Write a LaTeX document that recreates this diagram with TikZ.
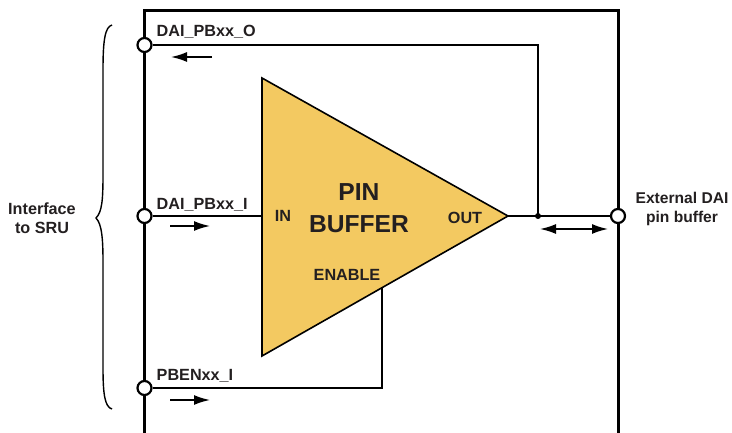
\documentclass[tikz,border=0pt]{standalone}
\usepackage{fontspec}
\setmainfont{Liberation Sans}
\usetikzlibrary{arrows.meta}
\definecolor{bufferfill}{RGB}{243,201,97}
\definecolor{labeltext}{RGB}{35,31,32}
\tikzset{
  wire/.style={line width=2pt},
  frameline/.style={line width=2.5pt},
  pin/.style={circle,draw,fill=white,line width=2.2pt,minimum size=14pt,inner sep=0pt},
  flow/.style={line width=1.7pt,-{Latex[length=16pt,width=10pt]}},
  flowboth/.style={line width=1.7pt,{Latex[length=16pt,width=10pt]}-{Latex[length=16pt,width=10pt]}},
  lbl/.style={font=\bfseries\fontsize{16.2}{19}\selectfont,text=labeltext,inner sep=0pt,align=center},
  big/.style={font=\bfseries\fontsize{24.6}{32}\selectfont,text=labeltext,inner sep=0pt,align=center},
}
\begin{document}
\begin{tikzpicture}[x=1pt,y=-1pt]
\useasboundingbox (0,0) rectangle (732,433);
% frame
\draw[frameline](144.5,433)--(144.5,10.5)--(618.5,10.5)--(618.5,433);
% buffer
\coordinate(bufa)at(262,78);
\coordinate(bufb)at(262,356);
\coordinate(bufout)at(508,216);
\coordinate(bufin)at(262,216);
\coordinate(bufen)at(382,288);
\coordinate(tap)at(538,216);
\coordinate(topcorner)at(538,45);
\coordinate(encorner)at(382.4,388);
% pins
\node[pin](pinO)at(144.5,45){};
\node[pin](pinI)at(144.5,216){};
\node[pin](pinEN)at(144.5,388){};
\node[pin](pinX)at(618,216){};
% wires
\draw[wire](pinO)--(topcorner)--(tap);
\draw[wire](pinI)--(bufin);
\draw[wire](bufout)--(pinX);
\draw[wire](pinEN)--(encorner)--(encorner|-bufen);
\draw[line width=1.6pt,fill=bufferfill,line join=miter](bufa)--(bufout)--(bufb)--cycle;
\fill(tap)circle(3);
% direction arrows
\coordinate(oa)at(212,57);\coordinate(ob)at(171,57);
\coordinate(ia)at(170,226);\coordinate(ib)at(210,226);
\coordinate(ea)at(170,400);\coordinate(eb)at(210,400);
\coordinate(xa)at(540,229);\coordinate(xb)at(608,229);
\draw[flow](oa)--(ob);
\draw[flow](ia)--(ib);
\draw[flow](ea)--(eb);
\draw[flowboth](xa)--(xb);
% brace
\draw[line width=1.4pt](112,25)..controls(105,27)and(103,40)..(103,70)
  --(103,175)..controls(103,200)and(102,212)..(96,218)
  ..controls(102,224)and(103,240)..(103,262)
  --(103,368)..controls(103,395)and(105,407)..(112,409);
% labels
\node[lbl,anchor=base west](lblO)at(156.5,36.5){DAI\_PBxx\_O};
\node[lbl,anchor=base west](lblI)at(156.5,210){DAI\_PBxx\_I};
\node[lbl,anchor=base west](lblEN)at(156.5,380){PBENxx\_I};
\node[lbl,anchor=base](lblIn)at(283,222){IN};
\node[lbl,anchor=base](lblOut)at(465,223.5){OUT};
\node[lbl,anchor=base](lblEnable)at(347,280.5){ENABLE};
\node[big](lblBuf)at(359,208){PIN\\BUFFER};
\node[lbl](lblSru)at(42,218.5){Interface\\to SRU};
\node[lbl,font=\bfseries\fontsize{15.6}{19}\selectfont](lblExt)at(682,208.5){External DAI\\pin buffer};
\end{tikzpicture}
\end{document}
